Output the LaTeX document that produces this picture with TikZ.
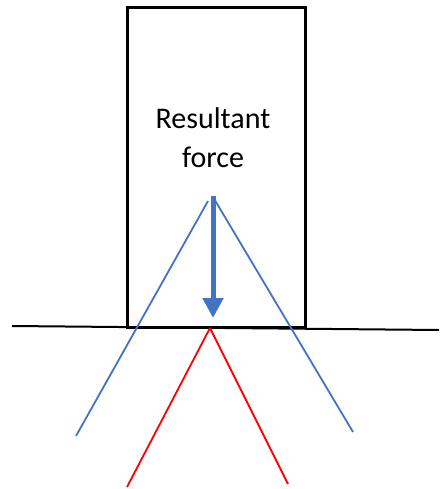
\documentclass[tikz,border=0pt]{standalone}
\usepackage{fontspec}
\setmainfont{Carlito}
\usetikzlibrary{arrows.meta}
\definecolor{fblue}{HTML}{4472C4}
\begin{document}
\begin{tikzpicture}[x=1pt,y=-1pt,
  blk/.style={line width=3pt},
  bline/.style={draw=fblue,line width=1.8pt},
  rline/.style={draw=red,line width=1.8pt}]
\useasboundingbox (0,0) rectangle (439,489);
\draw[blk] (127,8) rectangle (305,327);
\coordinate (gl) at (12,326);
\coordinate (gr) at (439,330);
\draw[line width=2pt] (gl) -- (gr);
\node[font=\fontsize{30}{39}\selectfont, align=center, anchor=center] (txt) at (213,138) {Resultant\\force};
\coordinate (atop) at (213,196);
\coordinate (atip) at (213,318);
\draw[draw=fblue,line width=5pt,-{Triangle[width=20pt,length=20pt]}] (atop) -- (atip);
\coordinate (bl0) at (208,201);
\coordinate (bl1) at (76,436);
\coordinate (br0) at (213,197);
\coordinate (br1) at (353,432);
\draw[bline] (bl0) -- (bl1);
\draw[bline] (br0) -- (br1);
\coordinate (rt) at (210,328);
\coordinate (rl) at (127,487);
\coordinate (rr) at (288,484);
\draw[rline] (rt) -- (rl);
\draw[rline] (rt) -- (rr);
\end{tikzpicture}
\end{document}
